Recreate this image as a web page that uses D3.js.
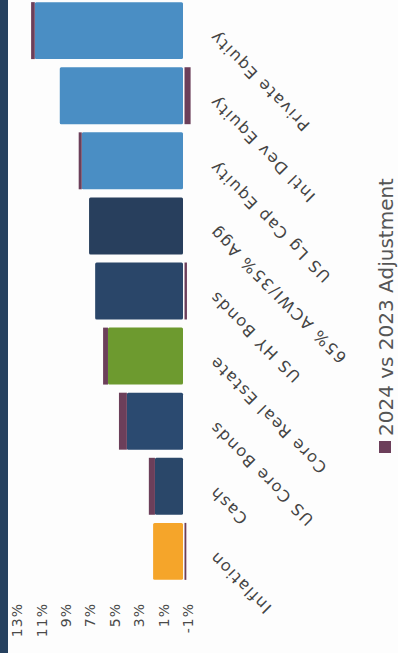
<!DOCTYPE html>
<html>
<head>
<meta charset="utf-8">
<script src="https://cdn.jsdelivr.net/npm/d3@7"></script>
<style>
  body { margin: 0; background: #fdfdfd; }
  svg { display: block; font-family: "DejaVu Sans", sans-serif; }
</style>
</head>
<body>
<div id="chart"></div>
<script>
// categories, left to right in the original column chart
const categories = ["Inflation", "Cash", "US Core Bonds", "Core Real Estate", "US HY Bonds",
  "65% ACWI/35% Agg", "US Lg Cap Equity", "Intl Dev Equity", "Private Equity"];
const baseValues = [2.45, 2.3, 4.6, 6.15, 7.2, 7.7, 8.3, 10.1, 12.15];
const adjValues = [-0.15, 0.5, 0.65, 0.4, -0.2, 0, 0.25, -0.5, 0.3];
const barColors = ["#f5a52a", "#2a4769", "#2b4a70", "#6d9a2f", "#2a4669",
  "#283f5d", "#4a8ec4", "#4a8ec4", "#4a8ec4"];
const tickValues = [-1, 1, 3, 5, 7, 9, 11, 13];
const legendLabel = "2024 vs 2023 Adjustment";
const adjColor = "#6c3f5a";

const pageW = 398, pageH = 653;

const svg = d3.select("#chart")
  .append("svg")
  .attr("width", pageW)
  .attr("height", pageH);

// dark frame strip on the left
svg.append("rect")
  .attr("x", 0).attr("y", 0)
  .attr("width", 8).attr("height", pageH)
  .attr("fill", "#26415f");

// the picture is a column chart turned a quarter turn, so draw it upright and rotate
const g = svg.append("g")
  .attr("transform", `translate(0,${pageH}) rotate(-90)`);

const x = d3.scaleBand()
  .domain(categories)
  .range([65, 659])
  .padding(0.125);

const y = d3.scaleLinear()
  .domain([-1, 13])
  .range([195.2, 24.4]);

// value axis
const yAxis = g.append("g")
  .attr("transform", "translate(56,0)")
  .call(d3.axisLeft(y).tickValues(tickValues).tickFormat(d => d + "%").tickSize(0).tickPadding(6));
yAxis.select(".domain").remove();
yAxis.selectAll("text")
  .attr("dy", "-0.2em")
  .style("font-size", "14px")
  .style("letter-spacing", "1px")
  .style("font-family", "DejaVu Sans, sans-serif")
  .attr("fill", "#4a4a4a");

const data = categories.map((c, i) => ({ cat: c, base: baseValues[i], adj: adjValues[i], color: barColors[i] }));

// base bars
g.append("g")
  .selectAll("rect")
  .data(data)
  .join("rect")
  .attr("x", d => x(d.cat))
  .attr("width", x.bandwidth())
  .attr("y", d => y(d.base))
  .attr("height", d => y(0) - y(d.base))
  .attr("rx", 1.5)
  .attr("fill", d => d.color);

// adjustment, stacked on top when positive, below zero when negative
g.append("g")
  .selectAll("rect")
  .data(data.filter(d => d.adj !== 0))
  .join("rect")
  .attr("x", d => x(d.cat))
  .attr("width", x.bandwidth())
  .attr("y", d => d.adj > 0 ? y(d.base + d.adj) : y(0) + 1.5)
  .attr("height", d => Math.abs(y(d.adj) - y(0)))
  .attr("fill", adjColor);

// category labels
g.append("g")
  .selectAll("text")
  .data(categories)
  .join("text")
  .attr("transform", d => `translate(${x(d) + x.bandwidth() / 2 - 3},212) rotate(-45)`)
  .attr("text-anchor", "end")
  .attr("dy", "0.35em")
  .style("font-size", "16px")
  .style("letter-spacing", "1.6px")
  .attr("fill", "#444")
  .text(d => d);

// legend
const legend = g.append("g").attr("transform", "translate(200,379)");
legend.append("rect")
  .attr("width", 12).attr("height", 12)
  .attr("fill", adjColor);
legend.append("text")
  .attr("x", 17).attr("y", 6)
  .attr("dy", "0.38em")
  .style("font-size", "20px")
  .attr("fill", "#555")
  .text(legendLabel);
</script>
</body>
</html>
